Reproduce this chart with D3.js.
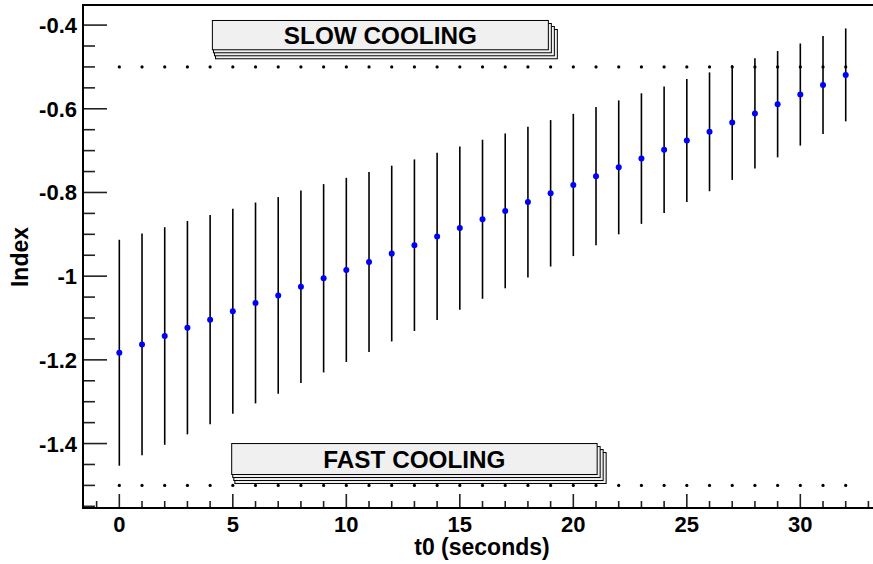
<!DOCTYPE html>
<html>
<head>
<meta charset="utf-8">
<script src="https://cdnjs.cloudflare.com/ajax/libs/d3/7.8.5/d3.min.js"></script>
<style>
  body { margin: 0; background: #fff; }
  svg { display: block; font-family: "Liberation Sans", Arial, Helvetica, sans-serif; font-weight: bold; }
</style>
</head>
<body>
<div id="chart"></div>
<script>
// t0 in seconds
var t0 = [0, 1, 2, 3, 4, 5, 6, 7, 8, 9, 10, 11, 12, 13, 14, 15, 16,
          17, 18, 19, 20, 21, 22, 23, 24, 25, 26, 27, 28, 29, 30, 31, 32];
var index = [-1.183, -1.163, -1.143, -1.123, -1.104, -1.084, -1.064, -1.046, -1.025, -1.005,
             -0.985, -0.966, -0.946, -0.926, -0.905, -0.885, -0.864, -0.844, -0.823, -0.802,
             -0.782, -0.761, -0.740, -0.719, -0.698, -0.676, -0.655, -0.633, -0.611, -0.589,
             -0.566, -0.543, -0.519];
var indexErr = [0.270, 0.265, 0.260, 0.255, 0.250, 0.245, 0.240, 0.235, 0.230, 0.225,
                0.220, 0.215, 0.210, 0.205, 0.200, 0.195, 0.190, 0.185, 0.180, 0.175,
                0.170, 0.165, 0.160, 0.156, 0.151, 0.147, 0.142, 0.137, 0.132, 0.127,
                0.122, 0.117, 0.111];
var xTicks = [0, 5, 10, 15, 20, 25, 30];
var yTicks = [-1.4, -1.2, -1, -0.8, -0.6, -0.4];
var refLines = [
    { y: -0.5, label: "SLOW COOLING", from: 4.1, to: 18.9, top: -0.389, bottom: -0.459 },
    { y: -1.5, label: "FAST COOLING", from: 4.95, to: 21.05, top: -1.400, bottom: -1.474 }
];

var width = 873, height = 564;
var frameLeft = 83, frameTop = 5, frameBottom = 508;

var x = d3.scaleLinear().domain([-1.6, 34]).range([frameLeft, frameLeft + 35.6 * 22.7]);
var y = d3.scaleLinear().domain([-1.554, -0.352]).range([frameBottom, frameTop]);

var svg = d3.select("#chart").append("svg")
    .attr("width", width)
    .attr("height", height);

// reference lines (dotted)
refLines.forEach(function (r) {
    svg.append("g").selectAll("circle")
        .data(t0)
        .enter().append("circle")
        .attr("cx", function (d) { return x(d); })
        .attr("cy", y(r.y))
        .attr("r", 1.6)
        .attr("fill", "#000");
});

// labelled boxes with stacked shadow
refLines.forEach(function (r) {
    var g = svg.append("g");
    var bx = x(r.from), by = y(r.top), bw = x(r.to) - x(r.from), bh = y(r.bottom) - y(r.top);
    [9, 6, 3, 0].forEach(function (off) {
        g.append("rect")
            .attr("x", bx + off * 0.35)
            .attr("y", by + off)
            .attr("width", bw + off * 0.65)
            .attr("height", bh)
            .attr("fill", "#f0f0f0")
            .attr("stroke", "#000")
            .attr("stroke-width", 1);
    });
    g.append("text")
        .attr("x", bx + bw / 2)
        .attr("y", by + bh / 2 + 8.5)
        .attr("text-anchor", "middle")
        .attr("font-size", "24.3px")
        .attr("fill", "#000")
        .text(r.label);
});

// error bars
svg.append("g").selectAll("line")
    .data(t0)
    .enter().append("line")
    .attr("x1", function (d) { return x(d); })
    .attr("x2", function (d) { return x(d); })
    .attr("y1", function (d, i) { return y(index[i] + indexErr[i]); })
    .attr("y2", function (d, i) { return y(index[i] - indexErr[i]); })
    .attr("stroke", "#000")
    .attr("stroke-width", 1.6);

// markers
svg.append("g").selectAll("circle")
    .data(t0)
    .enter().append("circle")
    .attr("cx", function (d) { return x(d); })
    .attr("cy", function (d, i) { return y(index[i]); })
    .attr("r", 3)
    .attr("fill", "#0000ff");

// axes
var xAxis = svg.append("g").attr("transform", "translate(0," + frameBottom + ")");
xAxis.selectAll("line")
    .data(x.ticks(40).filter(function (d) { return d % 1 === 0 && x(d) >= frameLeft; }))
    .enter().append("line")
    .attr("x1", function (d) { return x(d); })
    .attr("x2", function (d) { return x(d); })
    .attr("y1", 0)
    .attr("y2", function (d) { return d % 5 === 0 ? -14 : -7; })
    .attr("stroke", "#222")
    .attr("stroke-width", 1.6);
xAxis.selectAll("text")
    .data(xTicks)
    .enter().append("text")
    .attr("x", function (d) { return x(d); })
    .attr("y", 24)
    .attr("text-anchor", "middle")
    .attr("font-size", "22px")
    .text(function (d) { return d; });

var yAxis = svg.append("g").attr("transform", "translate(" + frameLeft + ",0)");
yAxis.selectAll("line")
    .data(y.ticks(30))
    .enter().append("line")
    .attr("x1", 0)
    .attr("x2", function (d) {
        var isMajor = yTicks.some(function (t) { return Math.abs(t - d) < 1e-6; });
        return isMajor ? 24 : 12;
    })
    .attr("y1", function (d) { return y(d); })
    .attr("y2", function (d) { return y(d); })
    .attr("stroke", "#222")
    .attr("stroke-width", 1.6);
yAxis.selectAll("text")
    .data(yTicks)
    .enter().append("text")
    .attr("x", -6)
    .attr("y", function (d) { return y(d) + 8; })
    .attr("text-anchor", "end")
    .attr("font-size", "22px")
    .text(function (d) { return d; });

// frame
svg.append("path")
    .attr("d", "M" + width + "," + frameTop + "H" + frameLeft + "V" + frameBottom + "H" + width)
    .attr("fill", "none")
    .attr("stroke", "#000")
    .attr("stroke-width", 2);

// titles
svg.append("text")
    .attr("x", 482)
    .attr("y", 555)
    .attr("text-anchor", "middle")
    .attr("font-size", "23px")
    .text("t0 (seconds)");
svg.append("text")
    .attr("transform", "translate(28,257) rotate(-90)")
    .attr("text-anchor", "middle")
    .attr("font-size", "23px")
    .text("Index");
</script>
</body>
</html>
